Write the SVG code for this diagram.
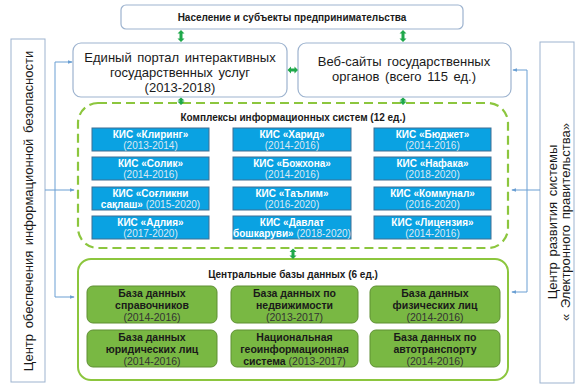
<svg xmlns="http://www.w3.org/2000/svg" width="580" height="388" viewBox="0 0 580 388">
<defs>
<style>
text{font-family:"Liberation Sans",Arial,sans-serif;}
.box{fill:#fff;stroke:#9db3cf;stroke-width:1.2;}
.vbox{fill:#fff;stroke:#9db3cf;stroke-width:1;}
.kis{fill:#0aa2e2;stroke:#3f6f93;stroke-width:1;}
.db{fill:#79b843;stroke:#5e8f33;stroke-width:1;}
.t-top{font-size:10px;font-weight:bold;fill:#1a1a1a;text-anchor:middle;}
.t-portal{font-size:13px;fill:#1a1a1a;text-anchor:middle;word-spacing:2px;}
.t-title{font-size:10px;font-weight:bold;fill:#1a1a1a;text-anchor:middle;}
.t-kis{font-size:10px;font-weight:bold;fill:#fff;text-anchor:middle;}
.t-kisy{font-size:10px;fill:#dde8f2;text-anchor:middle;}
.t-db{font-size:10.5px;font-weight:bold;fill:#1a1a1a;text-anchor:middle;}
.t-dby{font-size:10.5px;fill:#333;text-anchor:middle;}
.t-side{font-size:13px;fill:#1a1a1a;text-anchor:middle;word-spacing:2px;}
.garrow{fill:#1fa84a;stroke:none;}
.barrow{stroke:#6a9fd3;stroke-width:1;fill:none;}
.barrowh{stroke:#6a9fd3;stroke-width:1;fill:none;marker-end:url(#bh);}
</style>
<marker id="bh" viewBox="0 0 6 6" refX="5" refY="3" markerWidth="5" markerHeight="5" orient="auto" markerUnits="userSpaceOnUse">
<path d="M0,0.8 L6,3 L0,5.2 z" fill="#6a9fd3"/>
</marker>
</defs>
<rect width="580" height="388" fill="#fff"/>

<g id="top">
<rect class="box" x="121" y="5" width="342" height="24" rx="5"/>
<text class="t-top" x="292" y="21">Население и субъекты предпринимательства</text>
</g>

<g id="portal">
<rect class="box" x="73" y="43" width="214" height="54" rx="8"/>
<text class="t-portal" x="180" y="62">Единый портал интерактивных</text>
<text class="t-portal" x="180" y="77">государственных услуг</text>
<text class="t-portal" x="180" y="92">(2013-2018)</text>
</g>

<g id="websites">
<rect class="box" x="298" y="43" width="213" height="54" rx="8"/>
<text class="t-portal" x="404" y="66">Веб-сайты государственных</text>
<text class="t-portal" x="404" y="81">органов (всего 115 ед.)</text>
</g>

<g id="security">
<rect class="vbox" x="11" y="39" width="34" height="343"/>
<text class="t-side" transform="translate(32.5,211) rotate(-90)">Центр обеспечения информационной безопасности</text>
</g>

<g id="egov">
<rect class="vbox" x="540" y="42" width="34" height="341"/>
<text class="t-side" transform="translate(557,222) rotate(-90)">Центр развития системы</text>
<text class="t-side" transform="translate(570,222) rotate(-90)">« Электронного правительства»</text>
</g>

<g id="kis-group">
<rect x="78" y="103" width="430" height="145" rx="20" fill="none" stroke="#8cc63e" stroke-width="2.2" stroke-dasharray="9,5"/>
<text class="t-title" x="293" y="121">Комплексы информационных систем (12 ед.)</text>
</g>

<g id="kis-kliring"><rect class="kis" x="92" y="128" width="117" height="23"/><text class="t-kis" x="150.5" y="137.5">КИС «Клиринг»</text><text class="t-kisy" x="150.5" y="148.5">(2013-2014)</text></g>
<g id="kis-harid"><rect class="kis" x="233" y="128" width="118" height="23"/><text class="t-kis" x="292" y="137.5">КИС «Харид»</text><text class="t-kisy" x="292" y="148.5">(2014-2016)</text></g>
<g id="kis-budjet"><rect class="kis" x="374" y="128" width="117" height="23"/><text class="t-kis" x="432.5" y="137.5">КИС «Бюджет»</text><text class="t-kisy" x="432.5" y="148.5">(2014-2016)</text></g>

<g id="kis-solik"><rect class="kis" x="92" y="157" width="117" height="23"/><text class="t-kis" x="150.5" y="166.5">КИС «Солик»</text><text class="t-kisy" x="150.5" y="177.5">(2014-2016)</text></g>
<g id="kis-bojhona"><rect class="kis" x="233" y="157" width="118" height="23"/><text class="t-kis" x="292" y="166.5">КИС «Божхона»</text><text class="t-kisy" x="292" y="177.5">(2014-2016)</text></g>
<g id="kis-nafaka"><rect class="kis" x="374" y="157" width="117" height="23"/><text class="t-kis" x="432.5" y="166.5">КИС «Нафака»</text><text class="t-kisy" x="432.5" y="177.5">(2018-2020)</text></g>

<g id="kis-sogliq"><rect class="kis" x="92" y="187" width="117" height="23"/><text class="t-kis" x="150.5" y="196.5">КИС «Соғликни</text><text class="t-kisy" x="150.5" y="207.5"><tspan font-weight="bold" fill="#fff">сақлаш»</tspan> (2015-2020)</text></g>
<g id="kis-talim"><rect class="kis" x="233" y="187" width="118" height="23"/><text class="t-kis" x="292" y="196.5">КИС «Таълим»</text><text class="t-kisy" x="292" y="207.5">(2016-2020)</text></g>
<g id="kis-kommunal"><rect class="kis" x="374" y="187" width="117" height="23"/><text class="t-kis" x="432.5" y="196.5">КИС «Коммунал»</text><text class="t-kisy" x="432.5" y="207.5">(2016-2020)</text></g>

<g id="kis-adliya"><rect class="kis" x="92" y="216" width="117" height="23"/><text class="t-kis" x="150.5" y="225.5">КИС «Адлия»</text><text class="t-kisy" x="150.5" y="236.5">(2017-2020)</text></g>
<g id="kis-davlat"><rect class="kis" x="233" y="216" width="118" height="23"/><text class="t-kis" x="292" y="225.5">КИС «Давлат</text><text class="t-kisy" x="292" y="236.5"><tspan font-weight="bold" fill="#fff">бошкаруви»</tspan> (2018-2020)</text></g>
<g id="kis-litsenziya"><rect class="kis" x="374" y="216" width="117" height="23"/><text class="t-kis" x="432.5" y="225.5">КИС «Лицензия»</text><text class="t-kisy" x="432.5" y="236.5">(2014-2016)</text></g>

<g id="db-group">
<rect x="78" y="259" width="430" height="121" rx="13" fill="#fff" stroke="#8cc63e" stroke-width="2"/>
<text class="t-title" x="293" y="278">Центральные базы данных (6 ед.)</text>
</g>

<g id="db-sprav"><rect class="db" x="87" y="286" width="130" height="37" rx="6"/><text class="t-db" x="152" y="297">База данных</text><text class="t-db" x="152" y="309">справочников</text><text class="t-dby" x="152" y="321">(2014-2016)</text></g>
<g id="db-nedv"><rect class="db" x="231" y="286" width="127" height="37" rx="6"/><text class="t-db" x="294.5" y="297">База данных по</text><text class="t-db" x="294.5" y="309">недвижимости</text><text class="t-dby" x="294.5" y="321">(2013-2017)</text></g>
<g id="db-fiz"><rect class="db" x="370" y="286" width="130" height="37" rx="6"/><text class="t-db" x="435" y="297">База данных</text><text class="t-db" x="435" y="309">физических лиц</text><text class="t-dby" x="435" y="321">(2014-2016)</text></g>

<g id="db-yur"><rect class="db" x="87" y="330" width="130" height="37" rx="6"/><text class="t-db" x="152" y="341">База данных</text><text class="t-db" x="152" y="353">юридических лиц</text><text class="t-dby" x="152" y="365">(2014-2016)</text></g>
<g id="db-geo"><rect class="db" x="231" y="330" width="127" height="37" rx="6"/><text class="t-db" x="294.5" y="341">Национальная</text><text class="t-db" x="294.5" y="353">геоинформационная</text><text class="t-dby" x="294.5" y="365"><tspan font-weight="bold" fill="#1a1a1a">система</tspan> (2013-2017)</text></g>
<g id="db-avto"><rect class="db" x="370" y="330" width="130" height="37" rx="6"/><text class="t-db" x="435" y="341">База данных по</text><text class="t-db" x="435" y="353">автотранспорту</text><text class="t-dby" x="435" y="365">(2014-2016)</text></g>

<g id="connectors">
<path class="garrow" d="M181,30 L184.5,33.5 L182.5,33.5 L182.5,38.5 L184.5,38.5 L181,42 L177.5,38.5 L179.5,38.5 L179.5,33.5 L177.5,33.5 Z"/>
<path class="garrow" d="M403,30 L406.5,33.5 L404.5,33.5 L404.5,38.5 L406.5,38.5 L403,42 L399.5,38.5 L401.5,38.5 L401.5,33.5 L399.5,33.5 Z"/>
<path class="garrow" d="M287.5,70 L291,66.5 L291,68.5 L294.5,68.5 L294.5,66.5 L298,70 L294.5,73.5 L294.5,71.5 L291,71.5 L291,73.5 Z"/>
<path class="garrow" d="M181,97.5 L184.5,100.5 L182.5,100.5 L182.5,101.5 L184.5,101.5 L181,105 L177.5,101.5 L179.5,101.5 L179.5,100.5 L177.5,100.5 Z"/>
<path class="garrow" d="M403,97.5 L406.5,100.5 L404.5,100.5 L404.5,101.5 L406.5,101.5 L403,105 L399.5,101.5 L401.5,101.5 L401.5,100.5 L399.5,100.5 Z"/>
<path class="garrow" d="M293,248.5 L296.5,252 L294.5,252 L294.5,255.5 L296.5,255.5 L293,259 L289.5,255.5 L291.5,255.5 L291.5,252 L289.5,252 Z"/>

<path class="barrow" d="M45,190 H55 M55,62 V297"/>
<path class="barrowh" d="M55,62 H72"/>
<path class="barrowh" d="M55,190 H74"/>
<path class="barrowh" d="M55,297 H74"/>

<path class="barrow" d="M540,190 H527 M527,70 V292"/>
<path class="barrowh" d="M527,70 H513"/>
<path class="barrowh" d="M527,190 H512"/>
<path class="barrowh" d="M527,292 H512"/>
</g>
</svg>
